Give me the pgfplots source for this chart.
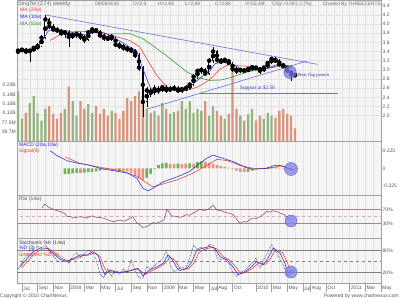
\documentclass[border=0pt]{standalone}
\usepackage{pgfplots}
\pgfplotsset{compat=1.18}
\usepackage{pgfplotstable}
\usepackage{fontspec}
\setmainfont{Liberation Sans}
\newfontfamily\serifont{Liberation Serif}
\newcommand{\fs}{\fontsize{5}{6}\selectfont}
\newcommand{\fsh}{\fontsize{4.8}{6}\selectfont}
\newcommand{\fst}{\fontsize{5.6}{6.5}\selectfont}
\definecolor{bgc}{RGB}{245,245,245}
\definecolor{gridc}{RGB}{226,226,226}
\definecolor{framec}{RGB}{160,160,160}
\definecolor{labc}{RGB}{85,85,85}
\definecolor{titc}{RGB}{110,110,110}
\definecolor{mared}{RGB}{235,60,50}
\definecolor{mablue}{RGB}{40,40,230}
\definecolor{magreen}{RGB}{40,150,40}
\definecolor{trend}{RGB}{110,110,225}
\definecolor{volsal}{RGB}{214,150,125}
\definecolor{volgrn}{RGB}{150,180,130}
\definecolor{hgrn}{RGB}{110,180,80}
\definecolor{hsal}{RGB}{232,145,125}
\definecolor{rsic}{RGB}{130,60,100}
\definecolor{rsiln}{RGB}{165,130,145}
\definecolor{rsidash}{RGB}{215,170,185}
\definecolor{circf}{RGB}{125,125,238}
\definecolor{annot}{RGB}{50,50,170}

\pgfplotstableread{
m o h l c v
-0.5 3.38 3.46 3.34 3.42 206
0.0 3.42 3.48 3.38 3.44 93
0.5 3.44 3.47 3.35 3.40 117
1.0 3.40 3.46 3.18 3.42 157
1.5 3.42 3.52 3.38 3.48 186
2.0 3.48 3.58 3.44 3.52 117
2.5 3.52 3.76 3.50 3.70 85
3.0 3.70 4.20 3.68 4.10 133
3.5 4.10 4.14 3.90 3.95 145
4.0 3.95 4.00 3.82 3.88 113
4.5 3.88 3.94 3.80 3.86 93
5.0 3.86 3.90 3.74 3.80 117
5.5 3.80 3.88 3.70 3.82 133
6.0 3.82 3.86 3.50 3.72 226
6.5 3.72 3.82 3.68 3.76 165
7.0 3.76 3.84 3.70 3.78 105
7.5 3.78 3.82 3.66 3.72 165
8.0 3.72 3.76 3.58 3.66 133
8.5 3.66 3.86 3.62 3.82 153
9.0 3.82 3.94 3.78 3.88 117
9.5 3.88 3.92 3.80 3.85 145
10.0 3.85 3.88 3.70 3.75 113
10.5 3.75 3.80 3.64 3.70 133
11.0 3.70 3.76 3.62 3.68 105
11.5 3.68 3.78 3.64 3.72 125
12.0 3.72 3.74 3.50 3.55 117
12.5 3.55 3.60 3.46 3.52 93
13.0 3.52 3.56 3.42 3.48 125
13.5 3.48 3.52 3.40 3.45 178
14.0 3.45 3.50 3.36 3.42 165
14.5 3.42 3.46 3.26 3.32 186
15.0 3.32 3.36 2.98 3.05 206
15.5 3.05 3.08 1.98 2.30 186
16.0 2.30 2.62 2.20 2.55 133
16.5 2.55 2.60 2.40 2.50 117
17.0 2.50 2.66 2.46 2.58 125
17.5 2.58 2.64 2.48 2.55 105
18.0 2.55 2.68 2.52 2.62 157
18.5 2.62 2.66 2.50 2.56 133
19.0 2.56 2.64 2.52 2.58 113
19.5 2.58 2.66 2.54 2.60 120
20.0 2.60 2.64 2.50 2.55 125
20.5 2.55 2.62 2.50 2.58 165
21.0 2.58 2.66 2.54 2.60 133
21.5 2.60 2.72 2.56 2.68 165
22.0 2.68 2.90 2.64 2.85 117
22.5 2.85 3.02 2.80 2.98 133
23.0 2.98 3.06 2.92 3.00 125
23.5 3.00 3.04 2.86 2.92 165
24.0 2.92 3.26 2.88 3.20 105
24.5 3.20 3.50 3.16 3.40 145
25.0 3.40 3.44 3.16 3.22 125
25.5 3.22 3.26 3.12 3.18 105
26.0 3.18 3.26 3.14 3.22 93
26.5 3.22 3.24 3.10 3.15 113
27.0 3.15 3.18 2.96 3.02 315
27.5 3.02 3.06 2.92 2.98 133
28.0 2.98 3.04 2.94 3.00 105
28.5 3.00 3.04 2.94 2.98 85
29.0 2.98 3.06 2.95 3.02 113
29.5 3.02 3.10 2.98 3.06 133
30.0 3.06 3.09 3.00 3.04 85
30.5 3.04 3.06 2.92 2.98 105
31.0 2.98 3.08 2.95 3.05 93
31.5 3.05 3.18 3.02 3.15 117
32.0 3.15 3.28 3.12 3.24 105
32.5 3.24 3.27 3.15 3.20 97
33.0 3.20 3.23 3.08 3.12 125
33.5 3.12 3.15 3.04 3.08 133
34.0 3.08 3.10 2.94 2.98 113
34.5 2.98 3.00 2.76 2.90 105
35.0 2.90 2.93 2.88 2.88 52
}\ohlc

\pgfplotstableread{
m v
0.77 3.42
1.67 3.47
2.56 3.62
3.33 3.84
4.23 3.91
5.5 3.86
6.8 3.80
8.1 3.76
9.36 3.82
10.6 3.80
11.5 3.73
12.6 3.62
13.8 3.50
14.7 3.42
15.5 3.02
16.4 2.64
16.8 2.51
17.7 2.55
19.6 2.58
20.9 2.58
21.9 2.69
23.2 2.87
24.1 2.98
24.7 3.13
26.0 3.20
27.3 3.09
28.6 2.98
29.9 3.00
31.2 3.02
32.8 3.12
33.7 3.10
34.7 3.04
}\maten

\pgfplotstableread{
m v
3.59 3.64
4.6 3.74
5.5 3.82
7.7 3.84
10.3 3.82
11.3 3.76
13.8 3.64
15.1 3.50
16.0 3.24
17.3 2.87
18.6 2.62
19.9 2.53
21.2 2.55
22.4 2.62
23.5 2.72
24.4 2.84
25.4 3.02
26.7 3.13
27.7 3.09
29.5 3.07
31.2 3.02
32.8 3.09
34.4 3.07
34.7 3.06
}\matwenty

\pgfplotstableread{
m v
11.0 3.78
13.8 3.79
15.5 3.68
17.0 3.50
18.3 3.34
19.9 3.12
21.2 2.95
22.4 2.84
24.1 2.77
25.6 2.78
26.9 2.84
29.0 2.96
31.2 3.02
33.3 3.09
34.7 3.10
}\mafifty

\pgfplotstableread{
m v
3.59 0.225
4.6 0.157
5.77 0.098
7.05 0.068
8.7 0.04
10.0 0.0
11.7 -0.03
13.5 -0.06
14.7 -0.125
15.5 -0.255
16.2 -0.29
16.8 -0.255
18.1 -0.173
19.9 -0.11
21.5 -0.04
22.8 0.064
23.7 0.13
24.5 0.17
25.4 0.14
27.1 0.086
28.6 0.013
29.6 -0.013
31.4 0.0
32.4 0.04
33.3 0.034
34.4 -0.013
34.7 -0.03
}\macd

\pgfplotstableread{
m v
5.5 0.148
7.4 0.064
10.0 0.013
12.6 -0.03
14.7 -0.1
16.0 -0.19
16.8 -0.238
17.7 -0.212
19.9 -0.148
21.9 -0.064
23.7 0.04
25.0 0.115
26.3 0.10
27.9 0.04
29.6 0.0
31.4 -0.005
33.1 0.03
34.7 -0.013
}\signal

\pgfplotstableread{
m v
5.5 -0.075
6.0 -0.070
6.5 -0.065
7.0 -0.060
8.0 -0.055
8.5 -0.050
9.0 -0.045
9.5 -0.040
10.0 -0.030
11.0 -0.015
12.5 -0.030
16.0 -0.120
16.5 -0.070
17.0 -0.010
17.5 0.040
18.0 0.065
18.5 0.070
20.0 0.060
21.5 0.065
22.5 0.080
23.0 0.090
29.0 -0.045
29.5 -0.030
30.0 -0.015
30.5 -0.005
31.0 0.005
31.5 0.015
32.0 0.020
}\histg

\pgfplotstableread{
m v
7.5 -0.060
10.5 -0.020
11.5 -0.025
12.0 -0.030
13.0 -0.035
13.5 -0.040
14.0 -0.060
14.5 -0.100
15.0 -0.130
15.5 -0.150
19.0 0.060
19.5 0.055
20.5 0.055
21.0 0.060
22.0 0.060
23.5 0.085
24.0 0.070
24.5 0.060
25.0 0.045
25.5 0.030
26.0 0.020
26.5 0.010
27.0 -0.010
27.5 -0.030
28.0 -0.045
28.5 -0.050
32.5 0.015
33.0 0.005
33.5 -0.005
34.0 -0.015
34.5 -0.020
35.0 -0.020
}\hists

\pgfplotstableread{
m v
2.56 74
2.95 85
3.3 78
3.59 74
4.0 70
4.49 66
4.9 64
5.26 60
5.5 58
5.77 49
6.2 50
6.54 45
7.0 47
7.44 49
7.9 47
8.33 45
8.7 50
9.1 51
9.5 47
10.0 47
10.5 44
10.9 41
11.3 38
11.67 34
12.1 37
12.56 39
13.1 36
13.6 41
14.2 49
14.7 32
15.1 26
15.5 18
15.8 20
16.15 22
16.5 28
16.8 32
17.2 30
17.7 34
18.2 40
18.6 70
19.2 51
19.7 50
20.3 47
20.7 51
21.15 55
21.5 53
21.9 59
22.3 63
22.8 70
23.2 67
23.7 68
24.1 74
24.5 82
25.0 68
25.5 66
25.9 63
26.3 60
26.7 58
27.05 55
27.5 42
27.95 30
28.4 35
28.85 34
29.2 40
29.6 45
30.1 44
30.5 49
30.9 55
31.4 64
31.8 62
32.2 66
32.7 63
33.1 59
33.6 55
34.0 47
34.3 43
34.6 39
}\rsi

\pgfplotstableread{
m v
-0.26 35
0.64 58
1.41 77
2.3 87
3.2 87
3.97 73
4.87 56
5.77 50
6.54 58
7.44 68
8.33 68
9.1 77
9.74 68
10.26 31
10.64 13
11.28 27
12.18 18
13.46 22
14.23 27
14.87 31
15.5 10
16.4 27
17.3 35
18.1 45
18.7 68
19.2 58
19.9 31
20.26 25
21.15 31
21.8 50
22.4 82
23.2 87
24.1 92
24.7 87
25.4 63
26.3 54
27.05 35
27.7 13
28.3 18
29.2 31
30.1 50
30.9 40
31.5 58
32.2 87
33.1 73
33.7 45
34.1 18
34.7 27
}\stochd

\pgfplotstableread{
m v
0.0 33
0.8 52
1.6 72
2.5 84
3.4 86
4.2 74
5.1 58
6.0 52
6.8 57
7.7 66
8.6 68
9.3 74
10.0 64
10.5 36
10.9 20
11.6 24
12.5 20
13.7 23
14.5 28
15.1 26
15.8 14
16.7 25
17.6 34
18.4 46
19.0 62
19.5 55
20.2 33
20.6 27
21.4 31
22.1 48
22.7 76
23.5 85
24.4 89
25.0 85
25.7 65
26.6 54
27.4 36
28.0 17
28.6 19
29.5 30
30.4 47
31.2 42
31.8 56
32.5 83
33.4 75
34.0 48
34.4 24
34.9 24
}\stochs

\pgfplotstableread{
m v
-0.5 30
0.0 45
0.5 65
1.0 80
1.5 85
2.0 92
2.5 88
3.0 95
3.5 80
4.0 65
4.5 52
5.0 48
5.5 55
6.0 45
6.5 65
7.0 75
7.5 60
8.0 72
8.5 82
9.0 75
9.5 55
10.0 15
10.5 5
11.0 30
11.5 8
12.0 25
12.5 15
13.0 30
13.5 20
14.0 55
14.5 25
15.0 5
15.5 3
16.0 35
16.5 30
17.0 40
17.5 48
18.0 55
18.5 80
19.0 40
19.5 20
20.0 28
20.5 35
21.0 30
21.5 60
22.0 95
22.5 85
23.0 90
23.5 80
24.0 98
24.5 95
25.0 60
25.5 55
26.0 58
26.5 45
27.0 20
27.5 8
28.0 20
28.5 25
29.0 35
29.5 45
30.0 60
30.5 30
31.0 55
31.5 75
32.0 98
32.5 80
33.0 60
33.5 40
34.0 10
34.5 15
35.0 30
}\stochk

\pgfplotsset{
  panel/.style={
    scale only axis, width=364pt,
    xmin=-0.64, xmax=46.03,
    axis background/.style={fill=bgc},
    axis line style={draw=framec, line width=0.6pt},
    xtick={0,2,4,6,8,10,12,14,16,18,20,22,24,25,27,30,32,34,36,37,39,42,44,46},
    minor xtick={1,3,5,7,9,11,13,15,17,19,21,23,26,28,29,31,33,35,38,40,41,43,45},
    xmajorgrids, xminorgrids,
    grid style={draw=gridc, line width=0.4pt},
    major tick length=0pt, minor tick length=0pt,
    xticklabels={},
    yticklabel pos=right,
    yticklabel style={font=\fs, text=labc, inner sep=1.5pt},
  },
  over/.style={
    scale only axis, width=364pt,
    xmin=-0.64, xmax=46.03,
  },
}

\begin{document}
\begin{tikzpicture}[x=1pt,y=1pt]
\path[use as bounding box, fill=white] (0,0) rectangle (400,300);

% ---------- main panel: background, grid, price labels
\begin{axis}[panel, at={(17pt,159pt)}, anchor=south west, height=141pt,
  ymin=1.448, ymax=4.524, ymajorgrids,
  ytick={2,2.2,2.4,2.6,2.8,3,3.2,3.4,3.6,3.8,4,4.2,4.4},
  yticklabels={2.0,2.2,2.4,2.6,2.8,3.0,3.2,3.4,3.6,3.8,4.0,4.2,4.4}]
\addplot[draw=none] coordinates {(0,3)};
\end{axis}

% ---------- volume
\begin{axis}[over, at={(17pt,159pt)}, anchor=south west, height=141pt,
  ymin=0, ymax=585,
  axis line style={draw=framec, line width=0.6pt},
  xtick=\empty, major tick length=0pt,
  ytick={38.75,77.5,116.25,155,193.75,232.5},
  yticklabels={38.7M,77.5M,0.12B,0.15B,0.19B,0.23B},
  yticklabel style={font=\fs, text=labc, inner sep=1pt}]
\addplot[ybar, bar width=2.3pt, bar shift=0pt, draw=none, fill=volgrn,
  restrict expr to domain={\thisrow{c}-\thisrow{o}}{0:10}] table[x=m, y=v] {\ohlc};
\addplot[ybar, bar width=2.3pt, bar shift=0pt, draw=none, fill=volsal,
  restrict expr to domain={\thisrow{c}-\thisrow{o}}{-10:-0.00001}] table[x=m, y=v] {\ohlc};
\end{axis}

% ---------- price plots
\begin{axis}[over, at={(17pt,159pt)}, anchor=south west, height=141pt,
  ymin=1.448, ymax=4.524, hide axis]
% trend lines
\addplot[trend, line width=0.6pt] coordinates {(2.95,4.20) (37.9,3.12)};
\addplot[trend, line width=0.6pt] coordinates {(16.0,2.14) (36.5,3.19)};
\addplot[trend, line width=0.6pt] coordinates {(22.8,2.48) (40.5,2.48)};
% wicks
\addplot[only marks, mark=none, error bars/.cd, y dir=both, y explicit,
  error mark=none, error bar style={draw=black, line width=0.45pt}]
  table[x=m, y=c, y error plus expr=\thisrow{h}-\thisrow{c},
        y error minus expr=\thisrow{c}-\thisrow{l}] {\ohlc};
% bodies
\addplot[only marks, mark=none, error bars/.cd, y dir=both, y explicit,
  error mark=none, error bar style={draw=black, line width=1.8pt}]
  table[x=m, y expr={(\thisrow{o}+\thisrow{c})/2},
        y error expr={abs(\thisrow{o}-\thisrow{c})/2+0.008}] {\ohlc};
\addplot[only marks, mark=none, restrict expr to domain={\thisrow{c}-\thisrow{o}}{0.03:10},
  error bars/.cd, y dir=both, y explicit,
  error mark=none, error bar style={draw=white, line width=0.8pt}]
  table[x=m, y expr={(\thisrow{o}+\thisrow{c})/2},
        y error expr={abs(\thisrow{o}-\thisrow{c})/2-0.01}] {\ohlc};
% moving averages
\addplot[magreen, line width=0.55pt] table[x=m,y=v] {\mafifty};
\addplot[mared, line width=0.55pt] table[x=m,y=v] {\matwenty};
\addplot[mablue, line width=0.55pt] table[x=m,y=v] {\maten};
\end{axis}

% ---------- MACD
\begin{axis}[panel, at={(17pt,105pt)}, anchor=south west, height=54pt,
  ymin=-0.343, ymax=0.351,
  ytick={-0.225,0,0.225}, yticklabels={-0.225,0,0.225}]
\addplot[ybar, bar width=2.6pt, bar shift=0pt, draw=none, fill=hgrn] table[x=m,y=v] {\histg};
\addplot[ybar, bar width=2.6pt, bar shift=0pt, draw=none, fill=hsal] table[x=m,y=v] {\hists};
\addplot[mared, line width=0.55pt] table[x=m,y=v] {\signal};
\addplot[mablue, line width=0.55pt] table[x=m,y=v] {\macd};
\end{axis}

% ---------- RSI
\begin{axis}[panel, at={(17pt,61.2pt)}, anchor=south west, height=43.8pt,
  ymin=-14.3, ymax=110.9,
  ytick={30,70}, yticklabels={30\%,70\%}]
\addplot[rsiln, line width=0.6pt] coordinates {(-1,70) (47,70)};
\addplot[rsiln, line width=0.6pt] coordinates {(-1,30) (47,30)};
\addplot[rsidash, line width=0.5pt, dashed] coordinates {(-1,50) (47,50)};
\addplot[rsic, line width=0.5pt] table[x=m,y=v] {\rsi};
\end{axis}

% ---------- Stochastic
\begin{axis}[panel, at={(17pt,16.7pt)}, anchor=south west, height=44.5pt,
  ymin=-10.6, ymax=113, clip mode=individual,
  ytick={20,80}, yticklabels={20\%,80\%},
  xticklabels={Jul,Sep,Nov,2008,Mar,May,Jul,Sep,Nov,2009,Mar,May,Jul,Aug,Oct,2010,Mar,May,Jul,Aug,Oct,2011,Mar,May},
  xticklabel style={font=\fs, text=labc, anchor=north west, inner sep=0pt, xshift=1.2pt, yshift=-3pt}]
\addplot[gray, line width=0.6pt] coordinates {(-1,80) (47,80)};
\addplot[gray, line width=0.6pt] coordinates {(-1,20) (47,20)};
\addplot[gray, line width=0.5pt, dashed] coordinates {(-1,50) (47,50)};
\addplot[black, line width=0.5pt, densely dotted] table[x=m,y=v] {\stochk};
\addplot[mared, line width=0.55pt] table[x=m,y=v] {\stochs};
\addplot[mablue, line width=0.55pt] table[x=m,y=v] {\stochd};
\pgfplotsinvokeforeach{0,2,4,6,8,10,12,14,16,18,20,22,24,25,27,30,32,34,36,37,39,42,44,46}{
  \draw[framec, line width=0.5pt] (axis cs:#1,-10.6) -- ++(0pt,-9pt);
}
\end{axis}

% ---------- annotation circles
\foreach \cx/\cy/\r in {290/227.7/6.2, 291/131/6.5, 291/79/6, 291/28/6}{
  \fill[circf, opacity=0.75] (\cx,\cy) circle[radius=\r];
  \draw[circf!75!black, line width=0.4pt] (\cx,\cy) circle[radius=\r];
}

% ---------- texts
\node[anchor=west, inner sep=0, font=\fst, text=titc] at (18,296) {SingTel (Z74) weekly};
\node[anchor=west, inner sep=0, font=\fsh, text=titc] at (95,296) {08/06/2010};
\node[anchor=west, inner sep=0, font=\fsh, text=titc] at (133,296) {O=2.9};
\node[anchor=west, inner sep=0, font=\fsh, text=titc] at (158,296) {H=2.93};
\node[anchor=west, inner sep=0, font=\fsh, text=titc] at (185,296) {L=2.88};
\node[anchor=west, inner sep=0, font=\fsh, text=titc] at (215,296) {C=2.88};
\node[anchor=west, inner sep=0, font=\fsh, text=titc] at (245,296) {V=50.3M};
\node[anchor=west, inner sep=0, font=\fsh, text=titc] at (272,296) {Chg=-0.08 (-2.7\%)};
\node[anchor=east, inner sep=0, font=\fsh, text=titc] at (381,296) {Charted By THREECENTS};

\node[anchor=west, inner sep=0, font=\fs, text=mared] at (20,290) {MA (20w)};
\node[anchor=west, inner sep=0, font=\fs, text=mablue] at (20,283) {MA (10w)};
\node[anchor=west, inner sep=0, font=\fs, text=magreen] at (20,276) {MA (50w)};

\node[anchor=west, inner sep=0, font=\serifont\fontsize{5.2}{6}\selectfont, text=annot] at (240,211.7) {Support at \$2.50};
\node[anchor=west, inner sep=0, font=\serifont\fontsize{4.6}{5.5}\selectfont, text=annot] at (298,224.3) {Bear flag pattern};

\node[anchor=west, inner sep=0, font=\fs, text=mablue] at (19,155) {MACD (20w,10w)};
\node[anchor=west, inner sep=0, font=\fs, text=mared] at (19,149) {Signal(9)};

\node[anchor=west, inner sep=0, font=\fs, text=labc] at (19,100.7) {RSI (14w)};

\node[anchor=west, inner sep=0, font=\fs, text=black!75] at (19,57) {Stochastic \%K (14w)};
\node[anchor=west, inner sep=0, font=\fs, text=mablue] at (19,51.5) {\%D (3)};
\node[anchor=west, inner sep=0, font=\fs, text=mared] at (19,44.5) {Smoothed \%D (3)};

\node[anchor=west, inner sep=0, font=\fs, text=labc] at (0,4) {Copyright \textcopyright{} 2010 ChartNexus};
\node[anchor=east, inner sep=0, font=\fs, text=labc] at (399,4) {Powered by www.chartnexus.com};
\end{tikzpicture}
\end{document}
